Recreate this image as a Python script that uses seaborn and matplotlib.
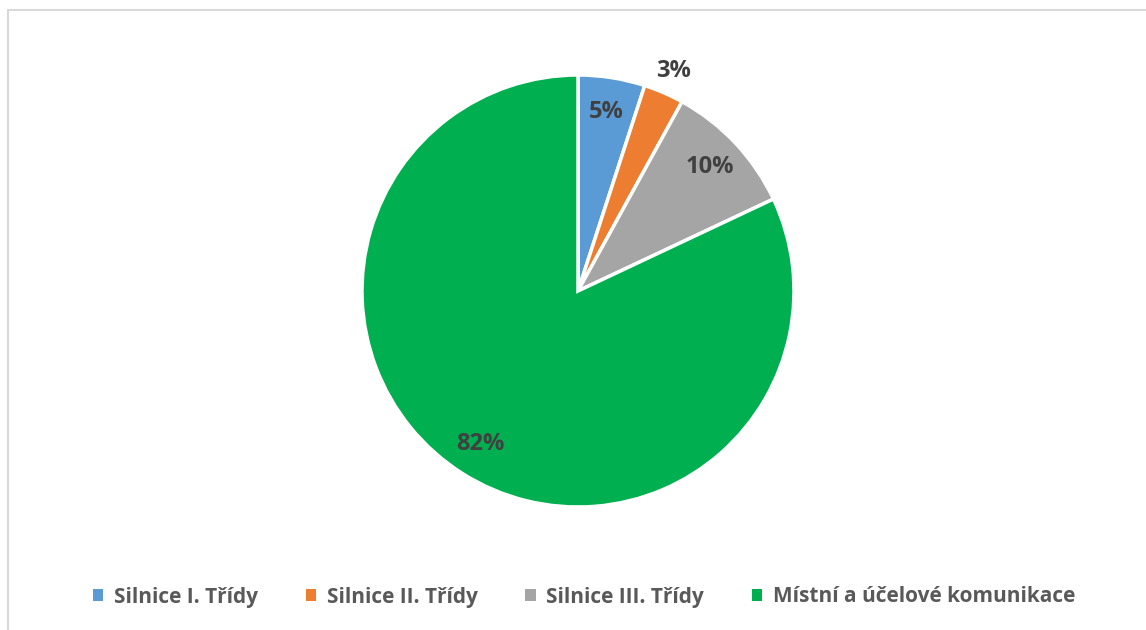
import numpy as np
import matplotlib.pyplot as plt
import seaborn as sns
from matplotlib.patches import Patch
from matplotlib.lines import Line2D

sns.set_style("white")
plt.rcParams['font.family'] = ['Open Sans', 'DejaVu Sans']

# data
categories = ['Silnice I. Třídy', 'Silnice II. Třídy', 'Silnice III. Třídy', 'Místní a účelové komunikace']
shares = [5, 3, 10, 82]
colors = ['#5B9BD5', '#ED7D31', '#A5A5A5', '#00B050']

W, H = 1146, 630
fig = plt.figure(figsize=(W / 100, H / 100), dpi=100)

# chart area border (left and top edges visible)
fig.add_artist(Line2D([8 / W, 8 / W], [0, 1 - 10 / H], transform=fig.transFigure, color='#D9D9D9', lw=1.5))
fig.add_artist(Line2D([8 / W, 1], [1 - 10 / H, 1 - 10 / H], transform=fig.transFigure, color='#D9D9D9', lw=1.5))

# pie axes: center (578, 291) px, radius 216 px
r = 216
ax = fig.add_axes([(578 - r) / W, (H - 291 - r) / H, 2 * r / W, 2 * r / H])
wedges, texts, autotexts = ax.pie(
    shares, colors=colors, startangle=90, counterclock=False,
    autopct='%1.0f%%', pctdistance=0.84,
    wedgeprops=dict(edgecolor='white', linewidth=2.5),
    textprops=dict(fontsize=17, fontweight='bold', color='#404040'))
ax.set_xlim(-1, 1)
ax.set_ylim(-1, 1)
ax.set_aspect('equal')

# small slice label sits outside the pie
x, y = autotexts[1].get_position()
autotexts[1].set_position((x * 1.32, y * 1.32))

handles = [Patch(facecolor=c, edgecolor='none') for c in colors]
fig.legend(handles, categories, loc='center', bbox_to_anchor=(584 / W, 1 - 597 / H), ncol=4,
           frameon=False, handlelength=0.5, handleheight=0.55, handletextpad=0.5,
           columnspacing=2.3, prop=dict(size=15, weight='bold'), labelcolor='#595959')

fig.savefig('out.png', dpi=100)
